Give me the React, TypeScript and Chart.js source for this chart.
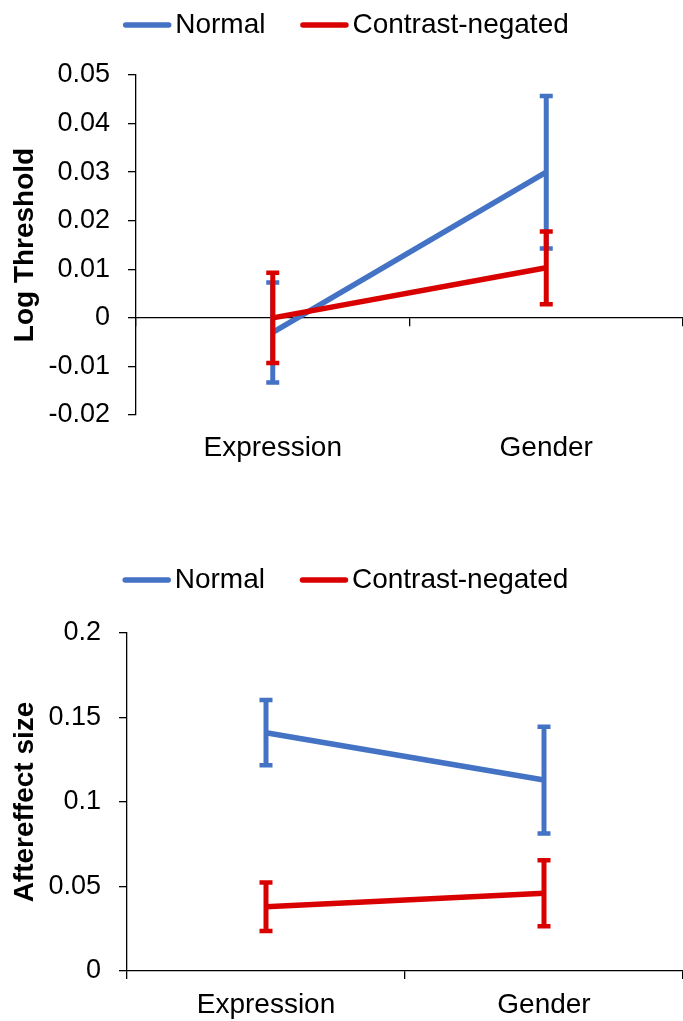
import React, { useEffect, useRef } from 'react';
import { Chart, registerables } from 'chart.js';

Chart.register(...registerables);

const FONT = '"Liberation Sans", Arial, Helvetica, sans-serif';

const categories = ['Expression', 'Gender'];
const seriesNames = ['Normal', 'Contrast-negated'];
const seriesColors = ['#4472C4', '#D90000'];

// Top panel: Log Threshold
const thresholdNormal = [-0.003, 0.030];
const thresholdNormalErr = [0.0103, 0.0157];
const thresholdContrast = [0.0, 0.0103];
const thresholdContrastErr = [0.0093, 0.0075];
const thresholdTickValues = [-0.02, -0.01, 0, 0.01, 0.02, 0.03, 0.04, 0.05];
const thresholdTickLabels = ['-0.02', '-0.01', '0', '0.01', '0.02', '0.03', '0.04', '0.05'];

// Bottom panel: Aftereffect size
const aftereffectNormal = [0.141, 0.113];
const aftereffectNormalErr = [0.0193, 0.0316];
const aftereffectContrast = [0.038, 0.046];
const aftereffectContrastErr = [0.0143, 0.0195];
const aftereffectTickValues = [0, 0.05, 0.1, 0.15, 0.2];
const aftereffectTickLabels = ['0', '0.05', '0.1', '0.15', '0.2'];

const errorBarPlugin = {
  id: 'errorBars',
  afterDatasetDraw(chart: any, args: any) {
    const ds = chart.data.datasets[args.index];
    const errs = ds.errors;
    if (!errs) return;
    const yScale = chart.scales.y;
    const ctx = chart.ctx;
    ctx.save();
    ctx.strokeStyle = ds.borderColor;
    ctx.lineCap = 'butt';
    args.meta.data.forEach((pt: any, i: number) => {
      const v = ds.data[i];
      const e = errs[i];
      const yTop = yScale.getPixelForValue(v + e);
      const yBot = yScale.getPixelForValue(v - e);
      const x = pt.x;
      ctx.lineWidth = 5;
      ctx.beginPath();
      ctx.moveTo(x, yTop);
      ctx.lineTo(x, yBot);
      ctx.stroke();
      ctx.lineWidth = 4.5;
      ctx.beginPath();
      ctx.moveTo(x - 6.5, yTop);
      ctx.lineTo(x + 6.5, yTop);
      ctx.moveTo(x - 6.5, yBot);
      ctx.lineTo(x + 6.5, yBot);
      ctx.stroke();
    });
    ctx.restore();
  },
};

const lineLegendPlugin = {
  id: 'lineLegend',
  afterDraw(chart: any, _args: any, opts: any) {
    const ctx = chart.ctx;
    const items = [...chart.data.datasets].sort((a: any, b: any) => a.legendIndex - b.legendIndex);
    ctx.save();
    ctx.font = `28px ${FONT}`;
    const lineLen = 48;
    const gap = 4;
    const itemGap = 35;
    const widths = items.map((d: any) => ctx.measureText(d.label).width);
    const total =
      widths.reduce((a: number, w: number) => a + lineLen + gap + w, 0) + itemGap * (items.length - 1);
    let x = chart.width / 2 + (opts.shift || 0) - total / 2;
    const y = opts.y;
    items.forEach((d: any, i: number) => {
      ctx.strokeStyle = d.borderColor;
      ctx.lineWidth = 5.5;
      ctx.lineCap = 'round';
      ctx.beginPath();
      ctx.moveTo(x + 2.5, y);
      ctx.lineTo(x + lineLen - 2.5, y);
      ctx.stroke();
      x += lineLen + gap;
      ctx.fillStyle = '#000';
      ctx.textBaseline = 'middle';
      ctx.textAlign = 'left';
      ctx.fillText(d.label, x, y);
      x += widths[i] + itemGap;
    });
    ctx.restore();
  },
};

function makeDatasets(normal: number[], normalErr: number[], contrast: number[], contrastErr: number[]) {
  return [
    {
      label: seriesNames[0],
      data: normal,
      errors: normalErr,
      legendIndex: 0,
      order: 1,
      borderColor: seriesColors[0],
      backgroundColor: seriesColors[0],
      borderWidth: 5.5,
      pointRadius: 0,
      pointHoverRadius: 0,
      tension: 0,
      fill: false,
      borderCapStyle: 'butt',
    },
    {
      label: seriesNames[1],
      data: contrast,
      errors: contrastErr,
      legendIndex: 1,
      order: 0,
      borderColor: seriesColors[1],
      backgroundColor: seriesColors[1],
      borderWidth: 5.5,
      pointRadius: 0,
      pointHoverRadius: 0,
      tension: 0,
      fill: false,
      borderCapStyle: 'butt',
    },
  ];
}

function topConfig(): any {
  return {
    type: 'line',
    data: {
      labels: categories,
      datasets: makeDatasets(thresholdNormal, thresholdNormalErr, thresholdContrast, thresholdContrastErr),
    },
    options: {
      animation: false,
      responsive: false,
      devicePixelRatio: 1,
      events: [],
      layout: { padding: { top: 75, left: 0, right: 0, bottom: 0 } },
      plugins: {
        legend: { display: false },
        tooltip: { enabled: false },
        lineLegend: { y: 25, shift: 4.5 },
      },
      scales: {
        x: {
          type: 'category',
          position: 'bottom',
          offset: true,
          grid: { display: false, drawTicks: false },
          border: { display: false },
          ticks: { font: { size: 28, family: FONT }, color: '#000', padding: 16 },
          afterFit: (s: any) => {
            s.height = 95;
          },
        },
        x2: {
          type: 'category',
          position: { y: 0 },
          offset: true,
          grid: { offset: true, drawOnChartArea: false, tickLength: 8, color: '#000', lineWidth: 1.3 },
          border: { display: true, color: '#000', width: 1.3 },
          ticks: { display: false },
        },
        y: {
          type: 'linear',
          min: -0.02,
          max: 0.05,
          afterBuildTicks: (s: any) => {
            s.ticks = thresholdTickValues.map((v) => ({ value: v }));
          },
          ticks: {
            callback: (_v: any, i: number) => thresholdTickLabels[i],
            font: { size: 27, family: FONT },
            color: '#000',
            padding: 18,
          },
          grid: { drawOnChartArea: false, tickLength: 8, color: '#000', lineWidth: 1.3 },
          border: { display: true, color: '#000', width: 1.3 },
          title: {
            display: true,
            text: 'Log Threshold',
            font: { size: 28, weight: 'bold', family: FONT },
            color: '#000',
            padding: { top: 8, bottom: 0 },
          },
          afterFit: (s: any) => {
            s.width = 136;
          },
        },
      },
    },
    plugins: [errorBarPlugin, lineLegendPlugin],
  };
}

function bottomConfig(): any {
  return {
    type: 'line',
    data: {
      labels: categories,
      datasets: makeDatasets(aftereffectNormal, aftereffectNormalErr, aftereffectContrast, aftereffectContrastErr),
    },
    options: {
      animation: false,
      responsive: false,
      devicePixelRatio: 1,
      events: [],
      layout: { padding: { top: 123, left: 0, right: 0, bottom: 0 } },
      plugins: {
        legend: { display: false },
        tooltip: { enabled: false },
        lineLegend: { y: 70, shift: 4 },
      },
      scales: {
        x: {
          type: 'category',
          position: 'bottom',
          offset: true,
          grid: { offset: true, drawOnChartArea: false, tickLength: 8, color: '#000', lineWidth: 1.3 },
          border: { display: true, color: '#000', width: 1.3 },
          ticks: { font: { size: 28, family: FONT }, color: '#000', padding: 9 },
          afterFit: (s: any) => {
            s.height = 50;
          },
        },
        y: {
          type: 'linear',
          min: 0,
          max: 0.2,
          afterBuildTicks: (s: any) => {
            s.ticks = aftereffectTickValues.map((v) => ({ value: v }));
          },
          ticks: {
            callback: (_v: any, i: number) => aftereffectTickLabels[i],
            font: { size: 27, family: FONT },
            color: '#000',
            padding: 18,
          },
          grid: { drawOnChartArea: false, tickLength: 8, color: '#000', lineWidth: 1.3 },
          border: { display: true, color: '#000', width: 1.3 },
          title: {
            display: true,
            text: 'Aftereffect size',
            font: { size: 28, weight: 'bold', family: FONT },
            color: '#000',
            padding: { top: 8, bottom: 0 },
          },
          afterFit: (s: any) => {
            s.width = 127;
          },
        },
      },
    },
    plugins: [errorBarPlugin, lineLegendPlugin],
  };
}

export default function App() {
  const topRef = useRef<HTMLCanvasElement | null>(null);
  const bottomRef = useRef<HTMLCanvasElement | null>(null);

  useEffect(() => {
    const charts: Chart[] = [];
    if (topRef.current) charts.push(new Chart(topRef.current, topConfig()));
    if (bottomRef.current) charts.push(new Chart(bottomRef.current, bottomConfig()));
    return () => {
      charts.forEach((c) => c.destroy());
    };
  }, []);

  return (
    <div style={{ position: 'absolute', left: 0, top: 0, width: 683, height: 1021, background: '#fff' }}>
      <canvas
        ref={topRef}
        width={683}
        height={510}
        style={{ position: 'absolute', left: 0, top: 0, width: 683, height: 510, display: 'block' }}
      />
      <canvas
        ref={bottomRef}
        width={683}
        height={511}
        style={{ position: 'absolute', left: 0, top: 510, width: 683, height: 511, display: 'block' }}
      />
    </div>
  );
}
